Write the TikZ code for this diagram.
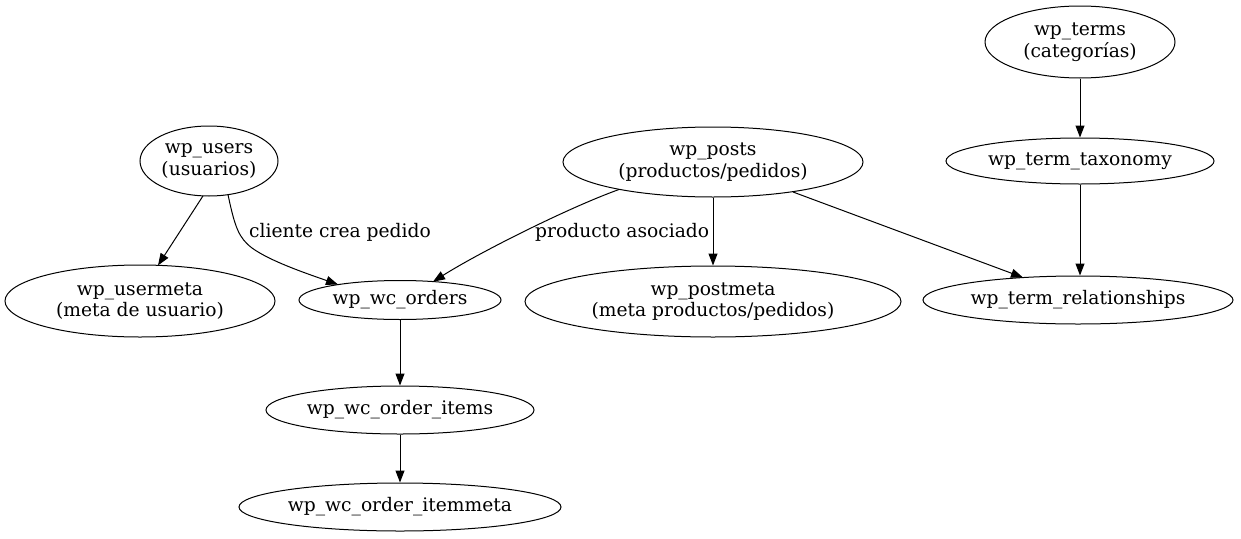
\documentclass[tikz,border=0pt]{standalone}
\usepackage{fontspec}
\setmainfont{DejaVu Serif}
\usetikzlibrary{arrows.meta,shapes.geometric,calc}
\begin{document}
\begin{tikzpicture}[x=1pt,y=-1pt,
  tbl/.style={draw,ellipse,line width=1pt,inner sep=0pt,align=center,font=\fontsize{18.67}{21.5}\selectfont},
  conn/.style={draw,line width=1pt,-{Triangle[length=12pt,width=9pt]}},
  lbl/.style={font=\fontsize{18.67}{21.5}\selectfont,inner sep=0pt}]
\useasboundingbox (0,0) rectangle (1241,538);
\node[tbl,minimum width=190pt,minimum height=72pt] (terms) at (1080,42) {wp\_terms\\(categorías)};
\node[tbl,minimum width=268pt,minimum height=46pt] (tax) at (1080,161) {wp\_term\_taxonomy};
\node[tbl,minimum width=310pt,minimum height=48pt] (rel) at (1078,300) {wp\_term\_relationships};
\node[tbl,minimum width=300pt,minimum height=70pt] (posts) at (713,162) {wp\_posts\\(productos/pedidos)};
\node[tbl,minimum width=376pt,minimum height=71pt] (postmeta) at (713,301.5) {wp\_postmeta\\(meta productos/pedidos)};
\node[tbl,minimum width=138pt,minimum height=70pt] (users) at (209,161) {wp\_users\\(usuarios)};
\node[tbl,minimum width=270pt,minimum height=72pt] (usermeta) at (140,301) {wp\_usermeta\\(meta de usuario)};
\node[tbl,minimum width=202pt,minimum height=39pt] (orders) at (400,300) {wp\_wc\_orders};
\node[tbl,minimum width=268pt,minimum height=48pt] (items) at (400,410) {wp\_wc\_order\_items};
\node[tbl,minimum width=322pt,minimum height=48pt] (itemmeta) at (400,507) {wp\_wc\_order\_itemmeta};
% border points
\coordinate (pR) at ($(posts.center)+(80,30)$);
\coordinate (pL) at ($(posts.center)+(-94,27.5)$);
\coordinate (rT) at ($(rel.center)+(-55,-22.5)$);
\coordinate (oL) at ($(orders.center)+(-62,-15.5)$);
\coordinate (oR) at ($(orders.center)+(33,-18.3)$);
\coordinate (uL) at ($(users.center)+(-6,34.9)$);
\coordinate (uR) at ($(users.center)+(19,33.6)$);
\coordinate (umT) at ($(usermeta.center)+(18,-35.6)$);
\draw[conn] (terms.south) -- (tax.north);
\draw[conn] (tax.south) -- (tax.south |- rel.north);
\draw[conn] (pR) -- (rT);
\draw[conn] (posts.south) -- (postmeta.north);
\draw[conn] (pL) .. controls (570,207) and (480,252) .. (oR);
\draw[conn] (uL) -- (umT);
\draw[conn] (uR) .. controls (235,228) and (239,238) .. (252,248) .. controls (270,261) and (305,273) .. (oL);
\draw[conn] (orders.south) -- (items.north);
\draw[conn] (items.south) -- (itemmeta.north);
\node[lbl,anchor=west] (l1) at (249,232) {cliente crea pedido};
\node[lbl,anchor=west] (l2) at (535,232) {producto asociado};
\end{tikzpicture}
\end{document}
